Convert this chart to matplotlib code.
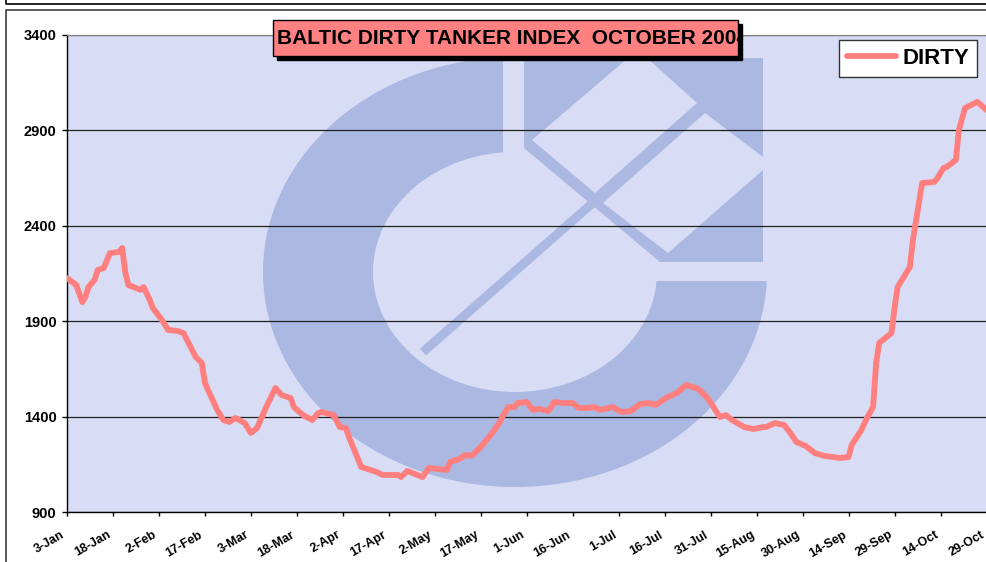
import pandas as pd
import matplotlib
matplotlib.use('Agg')
import matplotlib.pyplot as plt
from matplotlib.patches import Rectangle, Ellipse, Polygon
from matplotlib.lines import Line2D

# Dane indeksu
dates = ['2004-01-03', '2004-01-06', '2004-01-08', '2004-01-09', '2004-01-10', '2004-01-12', '2004-01-13',
         '2004-01-15', '2004-01-17', '2004-01-20', '2004-01-21', '2004-01-22', '2004-01-23', '2004-01-27',
         '2004-01-28', '2004-01-30', '2004-01-31', '2004-02-03', '2004-02-05', '2004-02-08', '2004-02-10',
         '2004-02-12', '2004-02-14', '2004-02-16', '2004-02-17', '2004-02-21', '2004-02-23', '2004-02-25',
         '2004-02-27', '2004-03-01', '2004-03-03', '2004-03-05', '2004-03-08', '2004-03-11', '2004-03-13',
         '2004-03-16', '2004-03-17', '2004-03-20', '2004-03-23', '2004-03-25', '2004-03-26', '2004-03-30',
         '2004-04-01', '2004-04-03', '2004-04-04', '2004-04-08', '2004-04-13', '2004-04-15', '2004-04-20',
         '2004-04-21', '2004-04-23', '2004-04-28', '2004-04-30', '2004-05-06', '2004-05-07', '2004-05-10',
         '2004-05-12', '2004-05-14', '2004-05-17', '2004-05-21', '2004-05-23', '2004-05-24', '2004-05-26',
         '2004-05-28', '2004-05-29', '2004-06-01', '2004-06-03', '2004-06-05', '2004-06-08', '2004-06-09',
         '2004-06-10', '2004-06-13', '2004-06-16', '2004-06-18', '2004-06-21', '2004-06-23', '2004-06-25',
         '2004-06-29', '2004-07-02', '2004-07-05', '2004-07-08', '2004-07-11', '2004-07-13', '2004-07-17',
         '2004-07-20', '2004-07-23', '2004-07-27', '2004-07-30', '2004-08-03', '2004-08-05', '2004-08-07',
         '2004-08-11', '2004-08-14', '2004-08-17', '2004-08-18', '2004-08-21', '2004-08-24', '2004-08-26',
         '2004-08-28', '2004-08-31', '2004-09-03', '2004-09-06', '2004-09-09', '2004-09-11', '2004-09-14',
         '2004-09-15', '2004-09-18', '2004-09-20', '2004-09-22', '2004-09-23', '2004-09-24', '2004-09-28',
         '2004-09-29', '2004-09-30', '2004-10-04', '2004-10-05', '2004-10-08', '2004-10-12', '2004-10-13',
         '2004-10-15', '2004-10-16', '2004-10-19', '2004-10-20', '2004-10-22', '2004-10-26', '2004-10-29']
dirty = [2126, 2090, 2000, 2027, 2079, 2116, 2168, 2179, 2257, 2263,
         2284, 2158, 2090, 2064, 2079, 2011, 1969, 1906, 1854, 1849,
         1838, 1775, 1712, 1681, 1576, 1435, 1382, 1372, 1393, 1366,
         1314, 1340, 1450, 1550, 1513, 1497, 1450, 1408, 1382, 1419,
         1424, 1408, 1345, 1340, 1293, 1136, 1110, 1094, 1094, 1083,
         1115, 1083, 1131, 1120, 1162, 1178, 1199, 1194, 1241, 1319,
         1366, 1398, 1450, 1450, 1471, 1477, 1435, 1440, 1429, 1450,
         1477, 1471, 1471, 1445, 1445, 1450, 1435, 1450, 1424, 1429,
         1466, 1471, 1461, 1503, 1524, 1566, 1545, 1497, 1398, 1408,
         1382, 1345, 1335, 1345, 1345, 1366, 1356, 1314, 1267, 1246,
         1209, 1194, 1188, 1183, 1188, 1251, 1325, 1393, 1450, 1681,
         1786, 1838, 1969, 2079, 2184, 2326, 2624, 2630, 2650, 2703,
         2708, 2745, 2902, 3017, 3049, 3007]

tick_labels = ['3-Jan', '18-Jan', '2-Feb', '17-Feb', '3-Mar', '18-Mar', '2-Apr', '17-Apr', '2-May', '17-May',
               '1-Jun', '16-Jun', '1-Jul', '16-Jul', '31-Jul', '15-Aug', '30-Aug', '14-Sep', '29-Sep',
               '14-Oct', '29-Oct']
y_ticks = [900, 1400, 1900, 2400, 2900, 3400]

title = 'BALTIC DIRTY TANKER INDEX  OCTOBER 2004'
series_name = 'DIRTY'

BG = '#D8DDF5'
LOGO = '#ABB8E2'
LINE = '#FF7F7F'

W, H = 987, 562
plt.rcParams['font.family'] = ['Liberation Sans', 'DejaVu Sans']


def pts(p):
    # piksele obrazka -> współrzędne figury
    return [(x / W, 1 - y / H) for x, y in p]


fig = plt.figure(figsize=(W / 100, H / 100), dpi=100)
fig.patch.set_facecolor('white')
ax = fig.add_axes([67 / W, 1 - 512 / H, (986.5 - 67) / W, (512 - 35) / H])
ax.set_facecolor(BG)

# Logo w tle
tf = fig.transFigure
ax.add_patch(Ellipse((515 / W, 1 - 272 / H), 2 * 252 / W, 2 * 215 / H, transform=tf, color=LOGO, lw=0, zorder=0.1))
ax.add_patch(Ellipse((515 / W, 1 - 272 / H), 2 * 142 / W, 2 * 120 / H, transform=tf, color=BG, lw=0, zorder=0.11))
ax.add_patch(Polygon(pts([(503, 40), (780, 40), (780, 281), (503, 281)]), transform=tf, color=BG, lw=0, zorder=0.12))
ax.add_patch(Polygon(pts([(524, 58), (763, 58), (763, 262), (660, 262), (524, 148)]), transform=tf,
                     color=LOGO, lw=0, zorder=0.13))
ax.add_patch(Polygon(pts([(532, 140), (628, 58), (647, 58), (697, 103), (595, 193)]), transform=tf,
                     color=BG, lw=0, zorder=0.14))
ax.add_patch(Polygon(pts([(603, 203), (705, 113), (763, 157), (763, 170), (668, 253)]), transform=tf,
                     color=BG, lw=0, zorder=0.14))
ax.add_patch(Polygon(pts([(420, 348.6), (426, 355.4), (705, 110.4), (699, 103.6)]), transform=tf,
                     color=LOGO, lw=0, zorder=0.15))

x = pd.to_datetime(dates)
ax.plot(x, dirty, color=LINE, lw=4.2, solid_capstyle='round', solid_joinstyle='round', label=series_name, zorder=3)

ticks = pd.date_range('2004-01-03', '2004-10-29', freq='15D')
ax.set_xlim(ticks[0], ticks[-1])
ax.set_xticks(ticks)
ax.set_xticklabels(tick_labels, rotation=30, ha='right', fontsize=9, fontweight='bold')
ax.set_ylim(900, 3400)
ax.set_yticks(y_ticks)
ax.set_yticklabels([str(v) for v in y_ticks], fontsize=10.5, fontweight='bold')
ax.tick_params(axis='x', length=3, width=1, pad=9)
ax.tick_params(axis='y', length=3.6, width=1, pad=4)
ax.set_axisbelow(True)
ax.grid(axis='y', color='#202020', lw=0.9)
for s in ['left', 'bottom']:
    ax.spines[s].set_color('black')
    ax.spines[s].set_linewidth(1)
ax.spines['top'].set_color('#808080')
ax.spines['right'].set_visible(False)

leg = ax.legend(loc='upper right', bbox_to_anchor=(977 / W, 1 - 40 / H), bbox_transform=tf, borderaxespad=0,
                fancybox=False, framealpha=1, edgecolor='#333333', handlelength=2.2, handletextpad=0.3,
                borderpad=0.35, prop={'weight': 'bold', 'size': 16})
leg.get_frame().set_linewidth(1)

# Tytuł w ramce z cieniem
fig.add_artist(Rectangle((277 / W, 1 - 60 / H), 465 / W, 36 / H, transform=tf, color='black', zorder=5))
box = Rectangle((273 / W, 1 - 56 / H), 465 / W, 36 / H, transform=tf, facecolor='#FF8080',
                edgecolor='black', lw=1, zorder=6)
fig.add_artist(box)
t = fig.text(277 / W, 1 - 39 / H, title, fontsize=15.0, fontweight='bold', va='center', ha='left', zorder=7)
t.set_clip_path(box)

# Ramki
fig.add_artist(Line2D([6 / W, 6 / W, 1], [1, 1 - 4 / H, 1 - 4 / H], transform=tf, color='black', lw=1.2))
fig.add_artist(Line2D([6 / W, 6 / W, 1], [0, 1 - 9.5 / H, 1 - 9.5 / H], transform=tf, color='#404040', lw=1.2))

fig.savefig('out.png', dpi=100)
